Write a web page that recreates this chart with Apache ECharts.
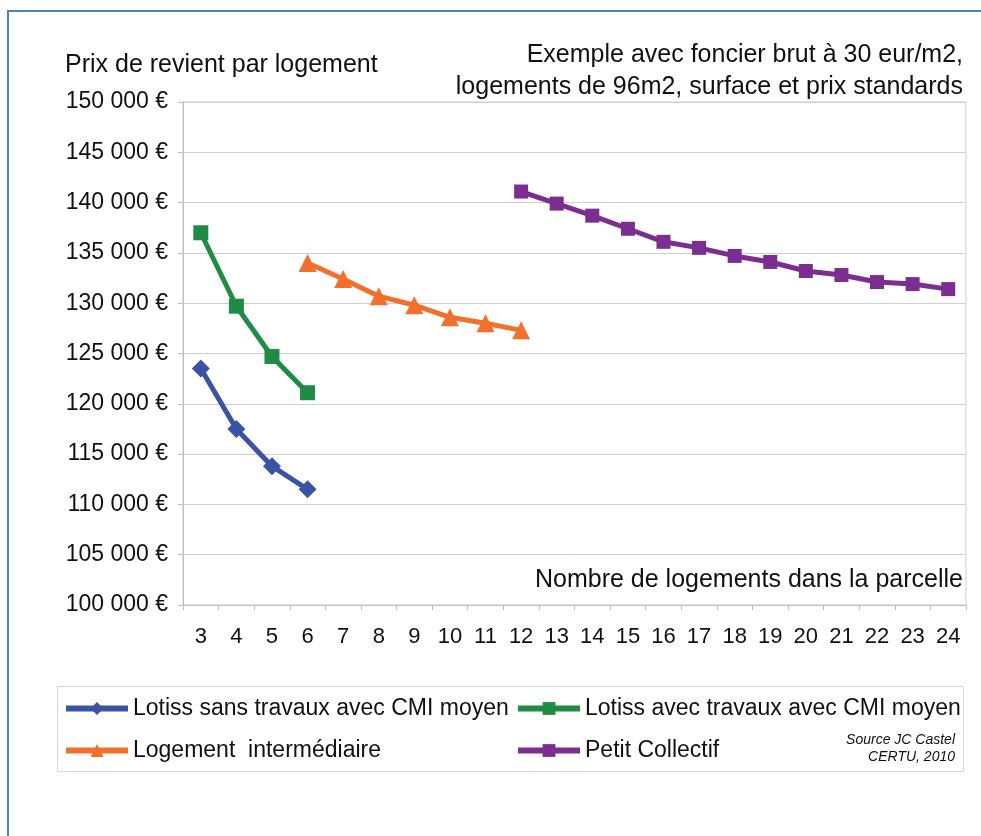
<!DOCTYPE html>
<html>
<head>
<meta charset="utf-8">
<script src="https://cdn.jsdelivr.net/npm/echarts@6/dist/echarts.min.js"></script>
<style>
  html, body { margin: 0; padding: 0; background: #fff; }
  #main { width: 981px; height: 836px; }
</style>
</head>
<body>
<div id="main"></div>
<script>
const categories = ['3', '4', '5', '6', '7', '8', '9', '10', '11', '12', '13', '14',
  '15', '16', '17', '18', '19', '20', '21', '22', '23', '24'];

// x positions (number of dwellings) and cost per dwelling for each series
const lotissSansX = ['3', '4', '5', '6'];
const lotissSansValues = [123500, 117500, 113800, 111500];

const lotissAvecX = ['3', '4', '5', '6'];
const lotissAvecValues = [137000, 129700, 124700, 121100];

const intermediaireX = ['6', '7', '8', '9', '10', '11', '12'];
const intermediaireValues = [134000, 132400, 130700, 129800, 128600, 128000, 127300];

const collectifX = ['12', '13', '14', '15', '16', '17', '18', '19', '20', '21', '22', '23', '24'];
const collectifValues = [141100, 139900, 138700, 137400, 136100, 135500, 134700, 134100,
  133200, 132800, 132100, 131900, 131400];

const yTicks = { min: 100000, max: 150000, step: 5000 };

const FONT = '"Liberation Sans", Arial, sans-serif';

function pairs(xs, vs) {
  return xs.map((x, i) => [x, vs[i]]);
}

function fmtEuro(v) {
  return String(v).replace(/\B(?=(\d{3})+(?!\d))/g, ' ') + ' €';
}

const chart = echarts.init(document.getElementById('main'));

function lineSeries(name, color, symbol, size, data) {
  return {
    name: name,
    type: 'line',
    data: data,
    symbol: symbol,
    symbolSize: size,
    showSymbol: true,
    animation: false,
    lineStyle: { color: color, width: 5 },
    itemStyle: { color: color },
  };
}

function legendAt(name, left, top) {
  return {
    data: [name],
    left: left,
    top: top,
    itemWidth: 62,
    itemHeight: 16,
    itemGap: 0,
    padding: 0,
    selectedMode: false,
    lineStyle: { width: 6 },
    textStyle: { fontFamily: FONT, fontSize: 23, color: '#111', padding: [0, 0, 0, 0] },
  };
}

// one right-aligned line of free text
function rightText(text, top, font) {
  return {
    type: 'text', right: 18, top: top,
    style: { text: text, font: font, fill: '#111' },
  };
}

const option = {
  backgroundColor: '#fff',
  animation: false,
  grid: {
    left: 183,
    right: 15,
    top: 102,
    bottom: 231,
    show: true,
    borderColor: '#cfcfcf',
    borderWidth: 1,
  },
  xAxis: {
    type: 'category',
    data: categories,
    boundaryGap: true,
    axisLine: { lineStyle: { color: '#bdbdbd', width: 1 } },
    axisTick: { show: true, interval: 0, length: 5, lineStyle: { color: '#bdbdbd' } },
    axisLabel: { interval: 0, margin: 21, fontFamily: FONT, fontSize: 22, color: '#111' },
    splitLine: { show: false },
  },
  yAxis: {
    type: 'value',
    min: yTicks.min,
    max: yTicks.max,
    interval: yTicks.step,
    axisLine: { show: true, lineStyle: { color: '#bdbdbd', width: 1 } },
    axisTick: { show: true, length: 5, lineStyle: { color: '#bdbdbd' } },
    axisLabel: { margin: 15, fontFamily: FONT, fontSize: 23, color: '#111', formatter: fmtEuro },
    splitLine: { show: true, lineStyle: { color: '#cfcfcf', width: 1 } },
  },
  legend: [
    legendAt('Lotiss sans travaux avec CMI moyen', 63, 697),
    legendAt('Lotiss avec travaux avec CMI moyen', 515, 697),
    legendAt('Logement  intermédiaire', 63, 739),
    legendAt('Petit Collectif', 515, 739),
  ],
  series: [
    lineSeries('Lotiss sans travaux avec CMI moyen', '#3a53a4', 'diamond', 18, pairs(lotissSansX, lotissSansValues)),
    lineSeries('Lotiss avec travaux avec CMI moyen', '#1f8b45', 'rect', 15, pairs(lotissAvecX, lotissAvecValues)),
    lineSeries('Logement  intermédiaire', '#f26f2c', 'triangle', 18, pairs(intermediaireX, intermediaireValues)),
    lineSeries('Petit Collectif', '#7b2e8f', 'rect', 14, pairs(collectifX, collectifValues)),
  ],
  graphic: [
    {
      type: 'rect', silent: true, z: -1,
      shape: { x: 8, y: 11, width: 1000, height: 900 },
      style: { fill: 'none', stroke: '#4f81bd', lineWidth: 2 },
    },
    {
      type: 'rect', silent: true,
      shape: { x: 57.5, y: 686.5, width: 906, height: 85 },
      style: { fill: 'none', stroke: '#d6d6d6', lineWidth: 1 },
    },
    {
      type: 'text', left: 65, top: 53,
      style: { text: 'Prix de revient par logement', font: '25px ' + FONT, fill: '#111' },
    },
    rightText('Exemple avec foncier brut à 30 eur/m2,', 43, '25px ' + FONT),
    rightText('logements de 96m2, surface et prix standards', 75, '25px ' + FONT),
    rightText('Nombre de logements dans la parcelle', 568, '25px ' + FONT),
    Object.assign(rightText('Source JC Castel', 733, 'italic 14px ' + FONT), { right: 26 }),
    Object.assign(rightText('CERTU, 2010', 750, 'italic 14px ' + FONT), { right: 26 }),
  ],
};

chart.setOption(option);
</script>
</body>
</html>
